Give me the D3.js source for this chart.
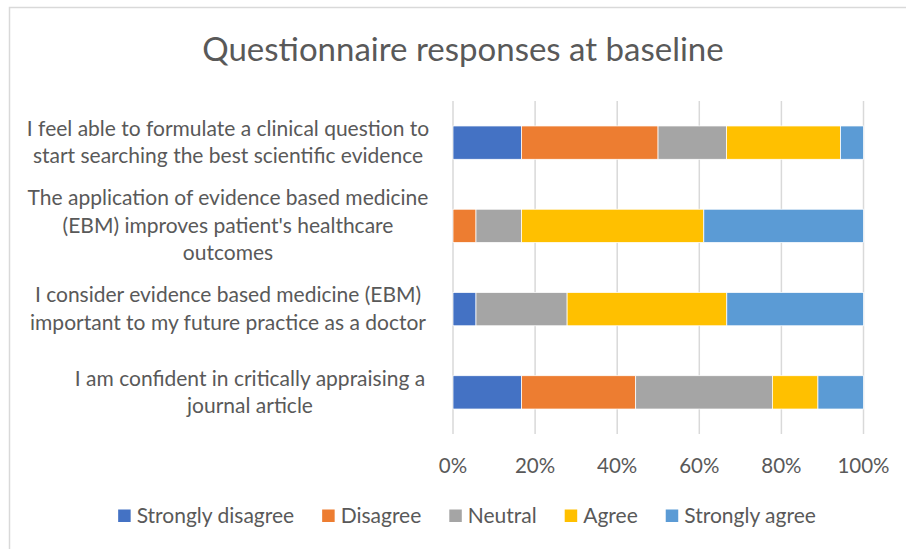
<!DOCTYPE html>
<html>
<head>
<meta charset="utf-8">
<script src="https://cdn.jsdelivr.net/npm/d3@7"></script>
<style>
  body { margin: 0; background: #fff; }
  svg text { font-family: Lato, "Open Sans", sans-serif; fill: #595959; }
</style>
</head>
<body>
<svg id="chart" width="906" height="549"></svg>
<script>
// questions, top to bottom, already broken into lines like the original
var questions = [
    ["I feel able to formulate a clinical question to", "start searching the best scientific evidence"],
    ["The application of evidence based medicine", "(EBM) improves patient's healthcare", "outcomes"],
    ["I consider evidence based medicine (EBM)", "important to my future practice as a doctor"],
    ["I am confident in critically appraising a", "journal article"]
];

var responses = ["Strongly disagree", "Disagree", "Neutral", "Agree", "Strongly agree"];
var colors = ["#4472C4", "#ED7D31", "#A5A5A5", "#FFC000", "#5B9BD5"];

// percent per response, one array per question (same order as questions)
var stronglyDisagree = [16.7, 0, 5.6, 16.7];
var disagree         = [33.3, 5.6, 0, 27.8];
var neutral          = [16.7, 11.1, 22.2, 33.3];
var agree            = [27.8, 44.4, 38.9, 11.1];
var stronglyAgree    = [5.6, 38.9, 33.3, 11.1];

var tickValues = [0, 0.2, 0.4, 0.6, 0.8, 1];

var svg = d3.select("#chart");

// chart frame
svg.append("rect")
    .attr("x", 9.5).attr("y", 7.5)
    .attr("width", 920).attr("height", 560)
    .attr("fill", "#fff")
    .attr("stroke", "#d9d9d9")
    .attr("stroke-width", 1.5);

svg.append("text")
    .attr("x", 463).attr("y", 61)
    .attr("text-anchor", "middle")
    .style("font-size", "33px")
    .text("Questionnaire responses at baseline");

var x = d3.scaleLinear().domain([0, 1]).range([453, 863.5]);
var y = d3.scaleBand()
    .domain(d3.range(questions.length))
    .range([101, 434])
    .paddingInner(0.6)
    .paddingOuter(0.3);

// gridlines
svg.append("g").selectAll("line")
    .data(tickValues)
  .enter().append("line")
    .attr("x1", function(d) { return x(d); })
    .attr("x2", function(d) { return x(d); })
    .attr("y1", 101).attr("y2", 434)
    .attr("stroke", "#d9d9d9")
    .attr("stroke-width", 1.5);

// stack the series into rows
var rows = questions.map(function(q, i) {
    var vals = [stronglyDisagree[i], disagree[i], neutral[i], agree[i], stronglyAgree[i]];
    var total = d3.sum(vals);
    var row = { index: i };
    responses.forEach(function(r, k) { row[r] = vals[k] / total; });
    return row;
});

var stack = d3.stack().keys(responses);
var series = stack(rows);

var layer = svg.append("g").selectAll("g")
    .data(series)
  .enter().append("g")
    .attr("fill", function(d, k) { return colors[k]; });

layer.selectAll("rect")
    .data(function(d) { return d; })
  .enter().append("rect")
    .attr("x", function(d) { return x(d[0]); })
    .attr("width", function(d) { return x(d[1]) - x(d[0]); })
    .attr("y", function(d) { return y(d.data.index); })
    .attr("height", y.bandwidth())
    .attr("stroke", "#fff")
    .attr("stroke-width", function(d) { return d[1] > d[0] ? 0.75 : 0; });

// x axis labels
svg.append("g").selectAll("text")
    .data(tickValues)
  .enter().append("text")
    .attr("x", function(d) { return x(d); })
    .attr("y", 473)
    .attr("text-anchor", "middle")
    .style("font-size", "20.5px")
    .text(d3.format(".0%"));

// question labels, centred on their bar
// (the last label sits a bit further right in the original, like Excel wraps it)
var lineH = 27.5;
var labelCx = [228, 228, 228, 250];
var qLabel = svg.append("g").selectAll("text")
    .data(questions)
  .enter().append("text")
    .attr("text-anchor", "middle")
    .style("font-size", "21px");

qLabel.each(function(lines, i) {
    var cy = y(i) + y.bandwidth() / 2;
    var top = cy - (lines.length - 1) * lineH / 2;
    d3.select(this).selectAll("tspan")
        .data(lines)
      .enter().append("tspan")
        .attr("x", labelCx[i])
        .attr("y", function(d, j) { return top + j * lineH + 7; })
        .text(function(d) { return d; });
});

// legend
var legend = svg.append("g");
var items = legend.selectAll("g")
    .data(responses)
  .enter().append("g");

items.append("rect")
    .attr("width", 12.5).attr("height", 12.5)
    .attr("y", 509.5)
    .attr("fill", function(d, k) { return colors[k]; });

items.append("text")
    .attr("x", 18.5)
    .attr("y", 523)
    .style("font-size", "21px")
    .text(function(d) { return d; });

var pos = 0;
var offsets = [];
items.each(function() {
    offsets.push(pos);
    pos += 18.5 + d3.select(this).select("text").node().getComputedTextLength() + 28;
});
var legendW = pos - 28;
var legendStart = 467 - legendW / 2;
items.attr("transform", function(d, k) { return "translate(" + (legendStart + offsets[k]) + ",0)"; });
</script>
</body>
</html>
